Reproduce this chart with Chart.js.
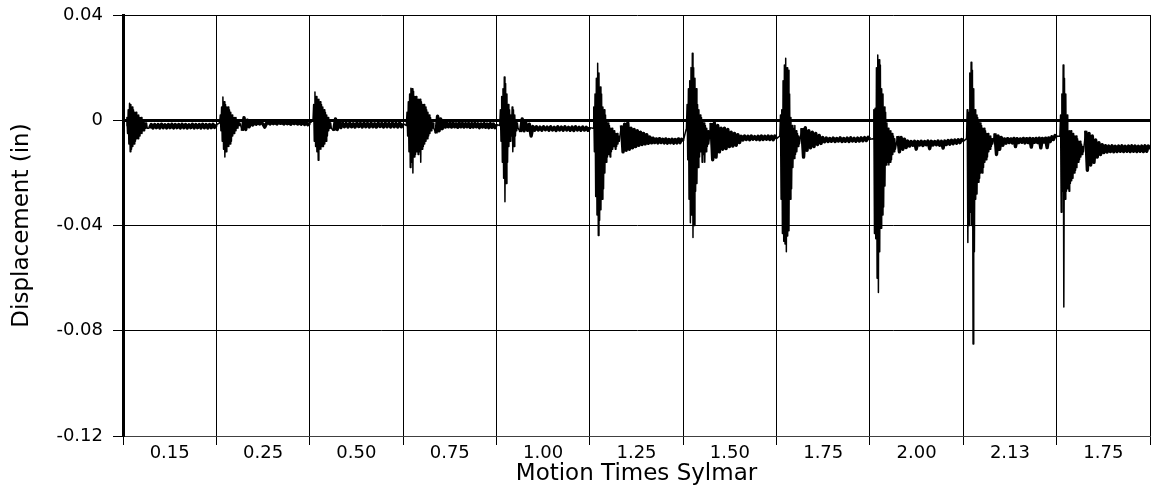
<!DOCTYPE html>
<html>
<head>
<meta charset="utf-8">
<title>Displacement – Sylmar motions</title>
<script src="https://cdn.jsdelivr.net/npm/chart.js@4.4.1/dist/chart.umd.min.js"></script>
<style>
  html, body { margin: 0; padding: 0; background: #fff; }
  #wrap { width: 1151px; height: 491px; }
</style>
</head>
<body>
<div id="wrap"><canvas id="disp" width="1151" height="491"></canvas></div>
<script>
// motion time scale of each run, one category per run
const runLabels = ['0.15', '0.25', '0.50', '0.75', '1.00', '1.25', '1.50', '1.75', '2.00', '2.13', '1.75'];

// y axis (in)
const yMin = -0.12;
const yMax = 0.04;
const yStep = 0.04;

// strong-motion part of each run (in), sampled densely
const burst01 = [-0.002, 0.001, -0.005, 0.004, -0.009, 0.0065, -0.012, 0.006, -0.011, 0.005, -0.010, 0.004, -0.009, 0.003, -0.008, 0.003, -0.007, 0.002, -0.007, 0.002, -0.006, 0.001, -0.005, 0.001, -0.005, 0.000, -0.004, 0.000, -0.004, -0.001, -0.003, -0.001, -0.003];
const burst02 = [-0.001, 0.002, -0.004, 0.005, -0.008, 0.0088, -0.011, 0.007, -0.014, 0.006, -0.012, 0.005, -0.010, 0.005, -0.010, 0.004, -0.009, 0.003, -0.008, 0.002, -0.006, 0.001, -0.005, 0.001, -0.004, 0.001, -0.003, 0.000, -0.003, 0.000, -0.002, -0.001];
const burst03 = [0.000, 0.006, -0.008, 0.0107, -0.010, 0.009, -0.012, 0.008, -0.0152, 0.008, -0.011, 0.007, -0.011, 0.006, -0.010, 0.005, -0.010, 0.004, -0.009, 0.003, -0.008, 0.002, -0.006, 0.001, -0.004, 0.000, -0.003, -0.001, -0.003];
const burst04 = [-0.002, 0.003, -0.006, 0.007, -0.012, 0.010, -0.018, 0.0122, -0.016, 0.012, -0.020, 0.011, -0.014, 0.009, -0.013, 0.009, -0.012, 0.008, -0.013, 0.008, -0.012, 0.008, -0.016, 0.007, -0.011, 0.006, -0.010, 0.006, -0.009, 0.005, -0.008, 0.004, -0.007, 0.003, -0.006, 0.002, -0.005, 0.001, -0.004, 0.000, -0.003, -0.001, -0.003];
const burst05 = [-0.002, 0.004, -0.008, 0.009, -0.016, 0.012, -0.022, 0.0164, -0.031, 0.014, -0.024, 0.010, -0.016, 0.006, -0.010, 0.004, -0.008, 0.002, -0.006, 0.005, -0.012, 0.004, -0.010, 0.002, -0.006, 0.000, -0.004, -0.001, -0.003];
const burst06 = [-0.003, 0.005, -0.012, 0.010, -0.029, 0.016, -0.036, 0.0217, -0.0438, 0.018, -0.038, 0.0126, -0.034, 0.010, -0.030, 0.005, -0.026, 0.004, -0.020, 0.002, -0.016, 0.000, -0.014, -0.001, -0.013, -0.002, -0.014, -0.003, -0.012, -0.003, -0.011, -0.004, -0.010, -0.004, -0.011, -0.005, -0.010, -0.005, -0.009, -0.006, -0.008];
const burst07 = [-0.003, 0.006, -0.015, 0.012, -0.030, 0.015, -0.039, 0.020, -0.036, 0.0255, -0.0446, 0.020, -0.040, 0.016, -0.027, 0.012, -0.024, 0.006, -0.018, 0.004, -0.014, 0.002, -0.012, 0.001, -0.016, 0.000, -0.013, -0.001, -0.016, -0.002, -0.012, -0.003, -0.010, -0.004, -0.009];
const burst08 = [-0.006, 0.002, -0.030, 0.004, -0.043, 0.015, -0.046, 0.021, -0.047, 0.0236, -0.050, 0.020, -0.044, 0.019, -0.042, 0.010, -0.030, 0.001, -0.026, -0.002, -0.018, -0.003, -0.0145, -0.002, -0.013, -0.004, -0.012, -0.005, -0.010, -0.006, -0.009];
const burst09 = [-0.007, 0.004, -0.043, 0.0046, -0.045, 0.020, -0.060, 0.0248, -0.0655, 0.023, -0.050, 0.021, -0.041, 0.012, -0.036, 0.010, -0.033, 0.005, -0.025, 0.003, -0.017, -0.001, -0.016, -0.003, -0.017, -0.004, -0.016, -0.004, -0.015, -0.005, -0.013, -0.006, -0.012, -0.007, -0.011];
const burst10 = [-0.007, 0.004, -0.0465, 0.003, -0.040, 0.018, -0.035, 0.022, -0.040, 0.019, -0.085, 0.012, -0.050, 0.004, -0.030, 0.002, -0.028, 0.001, -0.0236, 0.000, -0.022, -0.001, -0.020, -0.002, -0.020, -0.003, -0.018, -0.003, -0.016, -0.004, -0.015, -0.005, -0.014, -0.005, -0.012, -0.006, -0.011, -0.006, -0.010, -0.007, -0.009];
const burst11 = [-0.006, 0.002, -0.035, 0.010, -0.027, 0.021, -0.071, 0.016, -0.030, 0.010, -0.027, 0.002, -0.026, -0.004, -0.027, -0.004, -0.024, -0.004, -0.023, -0.005, -0.022, -0.005, -0.020, -0.006, -0.019, -0.006, -0.018, -0.007, -0.016, -0.008, -0.015, -0.008, -0.014, -0.009, -0.013, -0.010, -0.012];

// residual part of each run (in), until the next run starts
const tail01 = [-0.0030, -0.0016, -0.0029, -0.0016, -0.0028, -0.0016, -0.0029, -0.0015, -0.0028, -0.0017, -0.0029, -0.0016, -0.0028, -0.0015, -0.0029, -0.0016, -0.0028, -0.0016, -0.0029, -0.0015, -0.0028, -0.0016, -0.0029, -0.0017, -0.0028, -0.0015, -0.0029, -0.0016, -0.0028, -0.0016, -0.0029, -0.0015, -0.0028, -0.0016, -0.0029, -0.0016, -0.0028, -0.0015, -0.0027, -0.0017];
const tail02 = [-0.0040, 0.0010, -0.0035, 0.0000, -0.0025, -0.0005, -0.0018, -0.0008, -0.0015, -0.0009, -0.0014, -0.0008, -0.0015, -0.0026, -0.0012, -0.0009, -0.0014, -0.0008, -0.0013, -0.0009, -0.0014, -0.0008, -0.0012, -0.0009, -0.0014, -0.0008, -0.0013, -0.0010, -0.0015, -0.0009, -0.0013, -0.0008, -0.0014, -0.0010, -0.0015, -0.0009, -0.0016, -0.0010, -0.0017, -0.0012];
const tail03 = [-0.0040, 0.0005, -0.0035, -0.0005, -0.0028, -0.0011, -0.0025, -0.0012, -0.0026, -0.0011, -0.0025, -0.0013, -0.0026, -0.0011, -0.0024, -0.0012, -0.0026, -0.0011, -0.0025, -0.0012, -0.0026, -0.0011, -0.0025, -0.0013, -0.0026, -0.0011, -0.0024, -0.0012, -0.0026, -0.0011, -0.0025, -0.0012, -0.0026, -0.0011, -0.0025, -0.0012, -0.0026, -0.0011, -0.0025, -0.0013];
const tail04 = [-0.0050, 0.0015, -0.0040, 0.0005, -0.0032, -0.0005, -0.0026, -0.0011, -0.0025, -0.0012, -0.0026, -0.0011, -0.0025, -0.0013, -0.0027, -0.0011, -0.0025, -0.0012, -0.0026, -0.0013, -0.0025, -0.0012, -0.0027, -0.0013, -0.0026, -0.0012, -0.0025, -0.0013, -0.0028, -0.0014, -0.0026, -0.0013, -0.0027, -0.0014, -0.0028, -0.0013, -0.0027, -0.0014, -0.0028, -0.0016];
const tail05 = [-0.0045, 0.0005, -0.0040, -0.0010, -0.0038, -0.0015, -0.0060, -0.0024, -0.0038, -0.0025, -0.0037, -0.0026, -0.0038, -0.0025, -0.0036, -0.0026, -0.0038, -0.0025, -0.0037, -0.0027, -0.0039, -0.0025, -0.0037, -0.0026, -0.0038, -0.0025, -0.0037, -0.0027, -0.0038, -0.0026, -0.0039, -0.0025, -0.0037, -0.0027, -0.0038, -0.0026, -0.0037, -0.0027, -0.0038, -0.0028];
const tail06 = [-0.0020, -0.0120, -0.0015, -0.0114, -0.0010, -0.0110, -0.0030, -0.0105, -0.0035, -0.0100, -0.0040, -0.0095, -0.0045, -0.0092, -0.0050, -0.0090, -0.0055, -0.0088, -0.0064, -0.0086, -0.0068, -0.0085, -0.0071, -0.0086, -0.0070, -0.0085, -0.0072, -0.0086, -0.0071, -0.0087, -0.0073, -0.0085, -0.0072, -0.0087, -0.0073, -0.0086, -0.0071, -0.0085, -0.0072, -0.0080];
const tail07 = [-0.0010, -0.0150, -0.0010, -0.0140, -0.0020, -0.0120, -0.0030, -0.0110, -0.0030, -0.0108, -0.0035, -0.0100, -0.0045, -0.0098, -0.0050, -0.0095, -0.0055, -0.0085, -0.0061, -0.0075, -0.0060, -0.0073, -0.0061, -0.0074, -0.0060, -0.0072, -0.0062, -0.0073, -0.0061, -0.0074, -0.0060, -0.0073, -0.0061, -0.0072, -0.0060, -0.0073, -0.0061, -0.0074, -0.0060, -0.0070];
const tail08 = [-0.0030, -0.0140, -0.0028, -0.0114, -0.0040, -0.0105, -0.0045, -0.0100, -0.0050, -0.0092, -0.0058, -0.0088, -0.0066, -0.0082, -0.0068, -0.0081, -0.0069, -0.0080, -0.0068, -0.0081, -0.0069, -0.0079, -0.0067, -0.0081, -0.0069, -0.0080, -0.0068, -0.0081, -0.0067, -0.0079, -0.0069, -0.0080, -0.0068, -0.0079, -0.0067, -0.0078, -0.0066, -0.0077, -0.0065, -0.0072];
const tail09 = [-0.0060, -0.0120, -0.0065, -0.0110, -0.0072, -0.0104, -0.0079, -0.0098, -0.0081, -0.0095, -0.0080, -0.0110, -0.0081, -0.0094, -0.0080, -0.0096, -0.0081, -0.0093, -0.0079, -0.0108, -0.0080, -0.0094, -0.0081, -0.0093, -0.0079, -0.0095, -0.0080, -0.0106, -0.0079, -0.0092, -0.0077, -0.0091, -0.0076, -0.0089, -0.0075, -0.0087, -0.0074, -0.0085, -0.0073, -0.0080];
const tail10 = [-0.0050, -0.0130, -0.0060, -0.0110, -0.0065, -0.0095, -0.0071, -0.0087, -0.0070, -0.0085, -0.0071, -0.0086, -0.0069, -0.0100, -0.0070, -0.0085, -0.0071, -0.0084, -0.0069, -0.0086, -0.0070, -0.0085, -0.0069, -0.0102, -0.0070, -0.0084, -0.0069, -0.0085, -0.0068, -0.0105, -0.0069, -0.0083, -0.0068, -0.0104, -0.0067, -0.0081, -0.0063, -0.0073, -0.0058, -0.0062];
const tail11 = [-0.0040, -0.0190, -0.0050, -0.0170, -0.0060, -0.0160, -0.0075, -0.0140, -0.0085, -0.0130, -0.0093, -0.0123, -0.0097, -0.0121, -0.0098, -0.0119, -0.0097, -0.0120, -0.0099, -0.0119, -0.0098, -0.0118, -0.0097, -0.0119, -0.0099, -0.0118, -0.0098, -0.0119, -0.0097, -0.0118, -0.0098, -0.0119, -0.0099, -0.0118, -0.0098, -0.0119, -0.0097, -0.0118, -0.0098, -0.0110];

const bursts = [burst01, burst02, burst03, burst04, burst05, burst06, burst07, burst08, burst09, burst10, burst11];
const tails = [tail01, tail02, tail03, tail04, tail05, tail06, tail07, tail08, tail09, tail10, tail11];

// each run takes one unit on the x axis; samples are laid out in order inside it
const runLead = 0.035;
const burstDt = 0.007;

function buildTrace() {
  const pts = [];
  bursts.forEach((b, i) => {
    b.forEach((v, k) => pts.push({ x: i + runLead + k * burstDt, y: v }));
    const t = tails[i];
    const t0 = runLead + b.length * burstDt;
    const dt = (1 - t0) / t.length;
    t.forEach((v, k) => pts.push({ x: i + t0 + (k + 1) * dt, y: v, tail: true }));
  });
  return pts;
}

const trace = buildTrace();
const isWhole = v => Math.abs(v - Math.round(v)) < 1e-6;
const isZero = v => Math.abs(v) < 1e-9;

Chart.defaults.font.family = "'DejaVu Sans', sans-serif";
Chart.defaults.color = '#000';

new Chart(document.getElementById('disp'), {
  type: 'line',
  data: {
    datasets: [{
      label: 'Displacement',
      data: trace,
      borderColor: '#000',
      borderWidth: 1.5,
      borderJoinStyle: 'round',
      pointRadius: 0,
      tension: 0,
      fill: false,
      // residual noise reads as a solid band, so it gets a heavier stroke
      segment: {
        borderWidth: c => (trace[c.p0DataIndex].tail && trace[c.p1DataIndex].tail) ? 3.4 : 1.5
      }
    }]
  },
  options: {
    responsive: false,
    animation: false,
    devicePixelRatio: 1,
    events: [],
    layout: { padding: { top: 15, right: 1, left: 0, bottom: 0 } },
    plugins: {
      legend: { display: false },
      tooltip: { enabled: false }
    },
    scales: {
      x: {
        type: 'linear',
        min: 0,
        max: runLabels.length,
        afterFit: s => { s.height = 55; s.paddingLeft = 0; s.paddingRight = 0; },
        ticks: {
          stepSize: 0.5,
          autoSkip: false,
          maxRotation: 0,
          padding: -1,
          font: { size: 18, lineHeight: 1 },
          callback: v => isWhole(v) ? '' : runLabels[Math.floor(v)]
        },
        grid: {
          color: c => (c.tick && isWhole(c.tick.value)) ? '#000' : 'rgba(0,0,0,0)',
          tickColor: c => (c.tick && isWhole(c.tick.value)) ? '#000' : 'rgba(0,0,0,0)',
          lineWidth: 1,
          tickLength: 9
        },
        border: { display: true, color: '#404040', width: 1 },
        title: {
          display: true,
          text: 'Motion Times Sylmar',
          font: { size: 23 },
          padding: { top: 0, bottom: 3 }
        }
      },
      y: {
        min: yMin,
        max: yMax,
        afterFit: s => { s.width = 123; s.paddingTop = 0; s.paddingBottom = 0; },
        ticks: {
          stepSize: yStep,
          padding: 10,
          font: { size: 18 },
          callback: v => isZero(v) ? '0' : v.toFixed(2)
        },
        grid: {
          color: c => (c.tick && Math.abs(c.tick.value - yMin) < 1e-9) ? 'rgba(0,0,0,0)' : '#000',
          lineWidth: c => (c.tick && isZero(c.tick.value)) ? 3 : 1,
          tickColor: '#000',
          tickWidth: 1,
          tickLength: 10
        },
        border: { display: true, color: '#000', width: 3 },
        title: {
          display: true,
          text: 'Displacement (in)',
          font: { size: 23 },
          padding: { top: 8, bottom: 0 }
        }
      }
    }
  }
});
</script>
</body>
</html>
